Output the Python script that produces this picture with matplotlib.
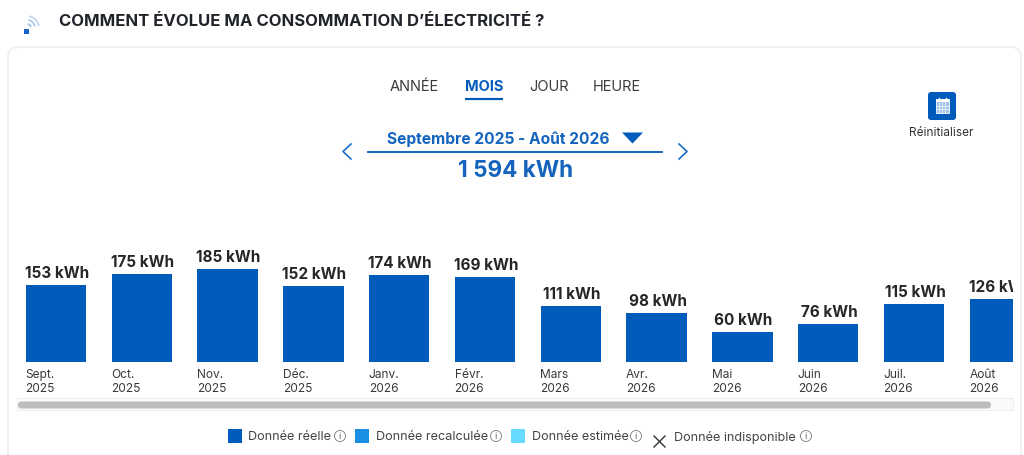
import matplotlib
matplotlib.use('Agg')
import matplotlib.pyplot as plt
from matplotlib.patches import FancyBboxPatch, Rectangle, Polygon, Arc, Circle

plt.rcParams['font.family'] = ['Inter', 'DejaVu Sans']

months = ['Sept.', 'Oct.', 'Nov.', 'Déc.', 'Janv.', 'Févr.', 'Mars', 'Avr.', 'Mai', 'Juin', 'Juil.', 'Août']
years = ['2025', '2025', '2025', '2025', '2026', '2026', '2026', '2026', '2026', '2026', '2026', '2026']
values = [153, 175, 185, 152, 174, 169, 111, 98, 60, 76, 115, 126]
tabs = ['ANNÉE', 'MOIS', 'JOUR', 'HEURE']
tab_x = [414, 484, 549, 617]
legend_labels = ['Donnée réelle', 'Donnée recalculée', 'Donnée estimée', 'Donnée indisponible']
legend_colors = ['#005BBB', '#1A8FE3', '#66DAFF', None]

BLUE = '#005BBB'
W, H = 1024, 456

fig = plt.figure(figsize=(W / 100, H / 100), dpi=100, facecolor='#ffffff')

bg = fig.add_axes([0, 0, 1, 1], zorder=0)
bg.set_xlim(0, W)
bg.set_ylim(H, 0)
bg.axis('off')

bg.add_patch(FancyBboxPatch((8, 48), 1013, 440, boxstyle='round,pad=0,rounding_size=10',
                            fc='white', ec='#f0f0f0', lw=1.4))

# signal icon
bg.add_patch(Rectangle((24, 29.5), 4.5, 5.5, fc='#1565c8', ec='none'))
for r, c in zip((4, 8, 12), ('#9cc0ec', '#a9c8ee', '#bcd4f2')):
    bg.add_patch(Arc((27, 29), 2 * r, 2 * r, theta1=280, theta2=350, color=c, lw=1.2))

bg.text(59, 22, 'COMMENT ÉVOLUE MA CONSOMMATION D’ÉLECTRICITÉ ?', fontsize=12,
        fontweight='bold', color='#20242a', va='center', ha='left')

# tabs
for t, x in zip(tabs, tab_x):
    active = t == 'MOIS'
    bg.text(x, 87, t, fontsize=10.5, ha='center', va='center',
            color=BLUE if active else '#3c3c3c', fontweight='bold' if active else 'normal')
bg.plot([465, 503], [100, 100], color=BLUE, lw=1.6, solid_capstyle='butt')

# period selector
bg.text(498, 139.5, 'Septembre 2025 - Août 2026', fontsize=11.2, fontweight='bold',
        color='#1464bd', ha='center', va='center')
bg.add_patch(Polygon([(622, 133.5), (643, 133.5), (632.5, 144.5)], fc=BLUE, ec='none'))
bg.plot([368, 662], [152.5, 152.5], color=BLUE, lw=1.3)
bg.text(515.5, 171.5, '1 594 kWh', fontsize=16.2, fontweight='bold', color='#1464bd',
        ha='center', va='center')
bg.plot([351, 343, 351], [145, 152.5, 160], color='#1a6ec8', lw=1.2)
bg.plot([679, 687, 679], [145, 152.5, 160], color='#1a6ec8', lw=1.2)

# reset button
bg.add_patch(FancyBboxPatch((928, 93), 28, 28, boxstyle='round,pad=0,rounding_size=3',
                            fc=BLUE, ec='none'))
bg.add_patch(Rectangle((935.5, 100), 13, 13.5, fc='#9fc3ea', ec='white', lw=0.6))
bg.add_patch(Rectangle((935.5, 100), 13, 3, fc='white', ec='none'))
for x in (938.5, 945.5):
    bg.plot([x, x], [98.5, 101], color='white', lw=1)
for x in (938.7, 942, 945.3):
    bg.plot([x, x], [103, 113.5], color='white', lw=0.5)
for y in (106.5, 110):
    bg.plot([935.5, 948.5], [y, y], color='white', lw=0.5)
bg.text(941.5, 133, 'Réinitialiser', fontsize=8.5, color='#333333', ha='center', va='center')

# chart axes: pixel box x 18..1013, y 200..363
ax = fig.add_axes([18 / W, 1 - 362.5 / H, 995 / W, 162.5 / H], zorder=2)
ax.patch.set_alpha(0)
px_step = 85.8
ax.set_xlim((18 - 56) / px_step, (1013 - 56) / px_step)
ax.set_ylim(0, 162.5 / 0.4975)
ax.axis('off')
xs = list(range(len(values)))
ax.bar(xs, values, width=60.5 / px_step, color=BLUE, edgecolor='none')
for x, v in zip(xs, values):
    ax.annotate(f'{v} kWh', (x, v), xytext=(1, 5), textcoords='offset pixels', ha='center',
                va='bottom', fontsize=11, fontweight='bold', color='#262626',
                annotation_clip=False, clip_on=True, clip_box=ax.bbox)
    ax.annotate(f'{months[x]}\n{years[x]}', (x - 0.355, 0), xytext=(0, -7), textcoords='offset pixels',
                ha='left', va='top', fontsize=8.6, color='#3a3a3a', linespacing=1.22,
                annotation_clip=False)

# scroll bar
bg.add_patch(Rectangle((17, 399.5), 996, 12, fc='#fafafa', ec='#ececec', lw=0.6))
bg.add_patch(FancyBboxPatch((18, 402.5), 973, 7, boxstyle='round,pad=0,rounding_size=3.5',
                            fc='#bdbdbd', ec='none'))

# legend
leg_sq = [228, 355, 511, None]
leg_txt = [248, 376, 532, 674]
leg_info = [340, 496, 636, 806]
for lab, col, sx, tx, ix in zip(legend_labels, legend_colors, leg_sq, leg_txt, leg_info):
    if col is not None:
        bg.add_patch(Rectangle((sx, 430), 14, 14, fc=col, ec='none'))
    else:
        bg.plot([654, 665], [437, 448], color='#333333', lw=1)
        bg.plot([654, 665], [448, 437], color='#333333', lw=1)
    bg.text(tx, 437.5, lab, fontsize=9.1, color='#444444', ha='left', va='center')
    bg.add_patch(Circle((ix, 437), 5.5, fc='white', ec='#777777', lw=0.6))
    bg.text(ix, 437, 'i', fontsize=6.5, color='#555555', ha='center', va='center')

fig.savefig('out.png', dpi=100)
